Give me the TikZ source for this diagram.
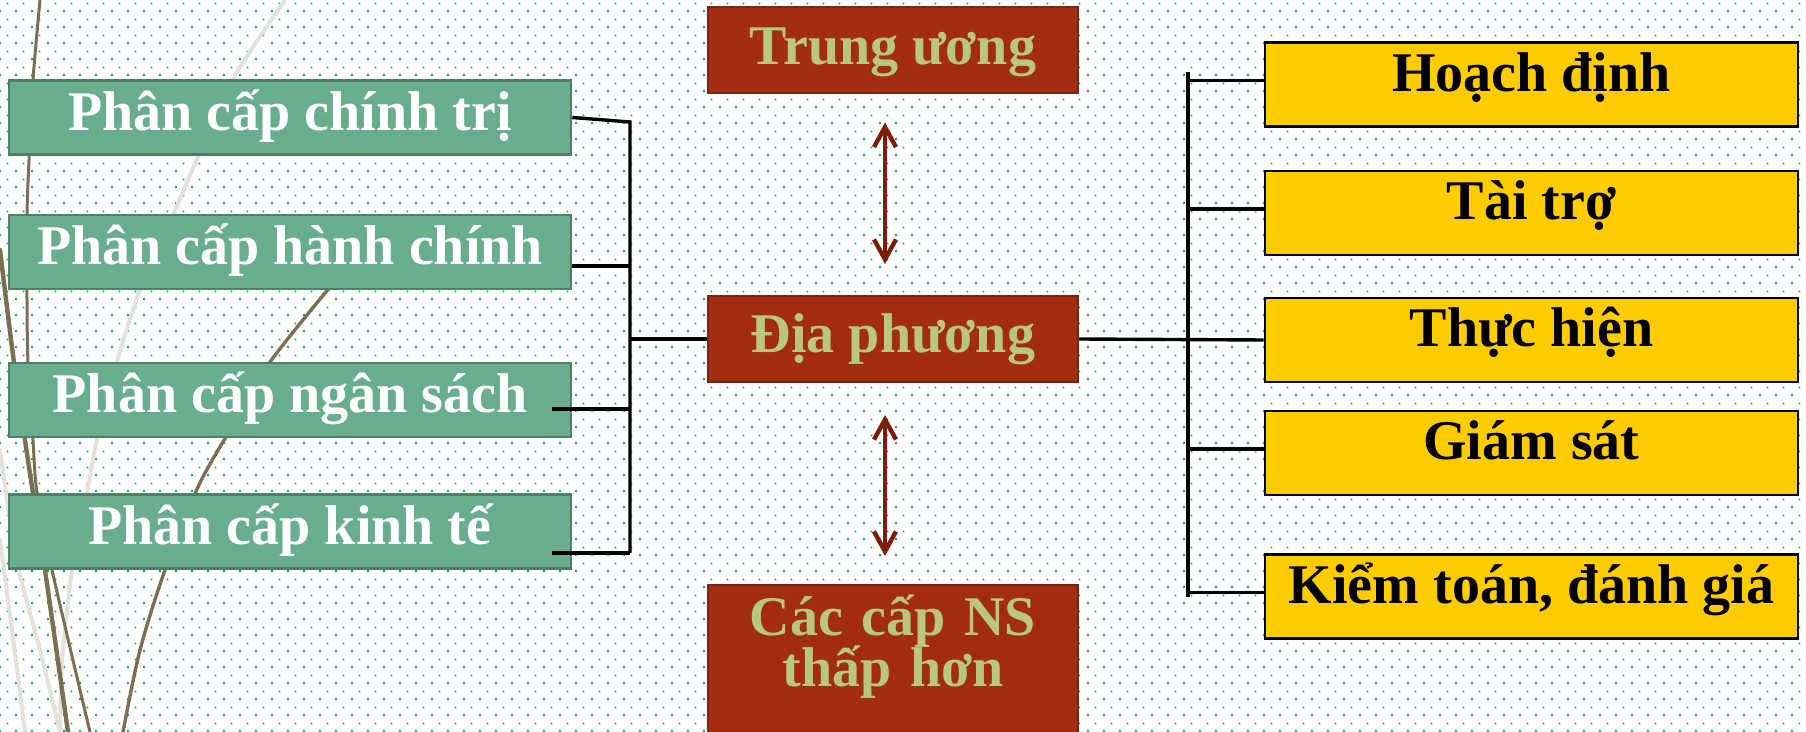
\documentclass[tikz,border=0pt]{standalone}
\usepackage{fontspec}
\setmainfont{Liberation Serif}
\usetikzlibrary{arrows.meta,patterns.meta}

\definecolor{dotgreen}{HTML}{00B050}
\definecolor{pcfill}{HTML}{69AD8F}
\definecolor{pcedge}{HTML}{4E7E68}
\definecolor{cqfill}{HTML}{A22D10}
\definecolor{cqedge}{HTML}{7C2410}
\definecolor{cqtext}{HTML}{B8C680}
\definecolor{khfill}{HTML}{FFCC00}
\definecolor{arrowred}{HTML}{7A1E0A}
\definecolor{stalkbrown}{HTML}{7B6F52}
\definecolor{stalkgrey}{HTML}{E3E1DA}

\pgfdeclarepattern{
  name=bgdots,
  type=uncolored,
  bottom left={\pgfpointorigin},
  top right={\pgfpoint{8pt}{8pt}},
  tile size={\pgfpoint{8pt}{8pt}},
  code={
    \pgfpathrectangle{\pgfpoint{0pt}{0pt}}{\pgfpoint{1pt}{1pt}}
    \pgfpathrectangle{\pgfpoint{4pt}{4pt}}{\pgfpoint{1pt}{1pt}}
    \pgfusepath{fill}
  }
}

\newcommand{\boxfont}{\bfseries\fontsize{28}{25.5}\selectfont}

\tikzstyle{pc}=[shape=rectangle,
                draw=pcedge,
                fill=pcfill,
                line width=1.3pt,
                text=white,
                font=\boxfont,
                minimum width=281pt,
                inner sep=0pt,
                text height=25pt,
                text depth=12pt]
\tikzstyle{cq}=[shape=rectangle,
                draw=cqedge,
                fill=cqfill,
                line width=1pt,
                text=cqtext,
                font=\boxfont,
                minimum width=185pt,
                inner sep=0pt,
                text height=28.5pt,
                text depth=14.5pt]
\tikzstyle{kh}=[shape=rectangle,
                draw=black,
                fill=khfill,
                line width=1.3pt,
                text=black,
                font=\boxfont,
                minimum width=266.5pt,
                inner sep=0pt,
                text height=24.5pt,
                text depth=17.5pt]
\tikzstyle{link}=[black,line width=1.7pt]
\tikzstyle{twoway}=[<->,arrowred,line width=2.2pt]
\tikzstyle{stalk}=[stalkbrown,line cap=round]
\tikzstyle{stalklight}=[stalkgrey,line cap=round]

\begin{document}
\begin{tikzpicture}[x=0.5pt,y=-0.5pt,>={Straight Barb[length=10pt,width=11pt]}]

% background
\useasboundingbox (0,0) rectangle (1806,732);
\fill[white] (0,0) rectangle (1806,732);
\fill[pattern=bgdots,pattern color=dotgreen] (0,0) rectangle (1806,732);

% stalks on the left
\draw[stalklight,line width=2pt] plot[smooth] coordinates {(285,0) (233,79) (197,159) (173,215) (140,290) (117,362) (97,440) (88,487) (72,570) (62,663) (60,732)};
\draw[stalklight,line width=2pt] plot[smooth] coordinates {(0,450) (10,520) (20,575) (40,650) (60,732)};
\draw[stalklight,line width=2pt] plot[smooth] coordinates {(0,540) (12,630) (25,732)};
\draw[stalk,line width=1.5pt] plot[smooth] coordinates {(40,0) (33,80) (29,160) (27,215) (27,300) (28,362) (33,440) (37,493) (52,570) (90,732)};
\draw[stalk,line width=2.2pt] plot[smooth] coordinates {(0,250) (13,355) (25,440) (33,493) (45,570) (68,732)};
\draw[stalk,line width=1.7pt] plot[smooth] coordinates {(340,275) (270,362) (230,430) (198,487) (165,570) (140,650) (123,732)};

% kinds of decentralisation
\node[pc] (p1) at (290,117.5) {Phân cấp chính trị};
\node[pc] (p2) at (290,252)   {Phân cấp hành chính};
\node[pc] (p3) at (290,400)   {Phân cấp ngân sách};
\node[pc] (p4) at (290,531.5) {Phân cấp kinh tế};

% levels
\node[cq] (tw) at (893,50.5) {Trung ương};
\node[cq] (dp) at (893,339)  {Địa phương};
\node[cq,anchor=north,text width=185pt,align=center,text height=25.5pt,text depth=60pt,
      execute at begin node={\lineskiplimit=-50pt}] (cc) at (893,584) {Các cấp NS\\thấp hơn};

% stages
\node[kh] (k1) at (1531.5,84.5) {Hoạch định};
\node[kh] (k2) at (1531.5,213)  {Tài trợ};
\node[kh] (k3) at (1531.5,340)  {Thực hiện};
\node[kh] (k4) at (1531.5,453)  {Giám sát};
\node[kh] (k5) at (1531.5,596.5) {Kiểm toán, đánh giá};

% left bracket
\coordinate (l1) at (630,122);
\coordinate (l2) at (630,553);
\draw[link] (p1.east) -- (l1) -- (l2);
\draw[link] ([yshift=-7pt]p2.east) -- ([yshift=-7pt]p2.east -| l1);
\draw[link] ([xshift=-10pt,yshift=-4.5pt]p3.east) -- ([yshift=-4.5pt]p3.east -| l1);
\draw[link] ([xshift=-10pt]p4.east |- l2) -- (l2);
\draw[link] (l1 |- dp.west) -- (dp.west);

% right bracket
\coordinate (r1) at (1188,72);
\coordinate (r2) at (1188,597);
\draw[link] (r1) -- (r2);
\draw[link] (dp.east) -- (k3.west);
\draw[link] ([yshift=2pt]k1.west -| r1) -- ([yshift=2pt]k1.west);
\draw[link] ([yshift=2pt]k2.west -| r1) -- ([yshift=2pt]k2.west);
\draw[link] ([yshift=2pt]k4.west -| r1) -- ([yshift=2pt]k4.west);
\draw[link] ([yshift=2pt]k5.west -| r1) -- ([yshift=2pt]k5.west);

% paths
\path[twoway,shorten <=14pt,shorten >=15.5pt] ([xshift=-4pt]tw.south) edge ([xshift=-4pt]dp.north);
\path[twoway,shorten <=16pt,shorten >=14pt] ([xshift=-4pt]dp.south) edge ([xshift=-4pt]cc.north);

\end{tikzpicture}
\end{document}
